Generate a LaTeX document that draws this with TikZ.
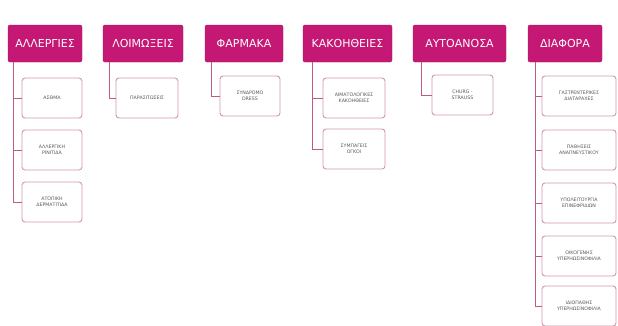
\documentclass[tikz,border=0pt]{standalone}
\usepackage{fontspec}
\setmainfont{DejaVu Sans}
\definecolor{magenta}{RGB}{196,24,116}
\definecolor{rose}{RGB}{210,150,176}
\definecolor{linkpink}{RGB}{190,90,135}
\tikzset{
  header/.style={fill=magenta,draw=magenta!85!black,rounded corners=2pt,
    text=white,font=\fontsize{11}{13}\selectfont,minimum height=37pt,inner sep=0.5pt},
  leaf/.style={fill=white,draw=rose,line width=0.9pt,rounded corners=3pt,
    text=black!65,font=\fontsize{4.7}{6}\selectfont,align=center,
    minimum height=40pt,inner sep=1pt},
  link/.style={draw=linkpink,line width=0.8pt}
}
\begin{document}
\begin{tikzpicture}[x=1pt,y=-1pt]
\useasboundingbox[fill=white] (0,0) rectangle (618,325);

% Αλλεργίες
\node[header,minimum width=74pt] (allergies) at (45,43.5) {ΑΛΛΕΡΓΙΕΣ};
\node[leaf,minimum width=60pt] (asthma) at (52,98) {ΑΣΘΜΑ};
\node[leaf,minimum width=60pt] (rinitida) at (52,150) {ΑΛΛΕΡΓΙΚΗ\\ΡΙΝΙΤΙΔΑ};
\node[leaf,minimum width=60pt] (dermatitida) at (52,202) {ΑΤΟΠΙΚΗ\\ΔΕΡΜΑΤΙΤΙΔΑ};
\draw[link] ([xshift=6pt]allergies.south west) |- (asthma.west);
\draw[link] ([xshift=6pt]allergies.south west) |- (rinitida.west);
\draw[link] ([xshift=6pt]allergies.south west) |- (dermatitida.west);

% Λοιμώξεις
\node[header,minimum width=80pt] (loimoxeis) at (143,43.5) {ΛΟΙΜΩΞΕΙΣ};
\node[leaf,minimum width=62pt] (parasitoseis) at (147,98) {ΠΑΡΑΣΙΤΩΣΕΙΣ};
\draw[link] ([xshift=7pt]loimoxeis.south west) |- (parasitoseis.west);

% Φάρμακα
\node[header,minimum width=78pt] (farmaka) at (244,43.5) {ΦΑΡΜΑΚΑ};
\node[leaf,minimum width=60pt] (dress) at (250,96) {ΣΥΝΔΡΟΜΟ\\DRESS};
\draw[link] ([xshift=7pt]farmaka.south west) |- (dress.west);

% Κακοήθειες
\node[header,minimum width=89pt] (kakoitheies) at (347.5,43.5) {ΚΑΚΟΗΘΕΙΕΣ};
\node[leaf,minimum width=62pt] (aimatologikes) at (354,98) {ΑΙΜΑΤΟΛΟΓΙΚΕΣ\\ΚΑΚΟΗΘΕΙΕΣ};
\node[leaf,minimum width=62pt] (ogkoi) at (354,149) {ΣΥΜΠΑΓΕΙΣ\\ΟΓΚΟΙ};
\draw[link] ([xshift=10pt]kakoitheies.south west) |- (aimatologikes.west);
\draw[link] ([xshift=10pt]kakoitheies.south west) |- (ogkoi.west);

% Αυτοάνοσα
\node[header,minimum width=93pt] (autoanosa) at (459.5,43.5) {ΑΥΤΟΑΝΟΣΑ};
\node[leaf,minimum width=61pt] (churg) at (462.5,95) {CHURG -\\STRAUSS};
\draw[link] ([xshift=9pt]autoanosa.south west) |- (churg.west);

% Διάφορα
\node[header,minimum width=74pt] (diafora) at (565,43.5) {ΔΙΑΦΟΡΑ};
\node[leaf,minimum width=74pt] (gastrenterikes) at (579,96) {ΓΑΣΤΡΕΝΤΕΡΙΚΕΣ\\ΔΙΑΤΑΡΑΧΕΣ};
\node[leaf,minimum width=74pt] (anapnefstikou) at (579,150) {ΠΑΘΗΣΕΙΣ\\ΑΝΑΠΝΕΥΣΤΙΚΟΥ};
\node[leaf,minimum width=74pt] (epinefridion) at (579,203) {ΥΠΟΛΕΙΤΟΥΡΓΙΑ\\ΕΠΙΝΕΦΡΙΔΙΩΝ};
\node[leaf,minimum width=74pt] (oikogenis) at (579,256) {ΟΙΚΟΓΕΝΗΣ\\ΥΠΕΡΗΩΣΙΝΟΦΙΛΙΑ};
\node[leaf,minimum width=74pt] (idiopathis) at (579,306) {ΙΔΙΟΠΑΘΗΣ\\ΥΠΕΡΗΩΣΙΝΟΦΙΛΙΑ};
\draw[link] ([xshift=8pt]diafora.south west) |- (gastrenterikes.west);
\draw[link] ([xshift=8pt]diafora.south west) |- (anapnefstikou.west);
\draw[link] ([xshift=8pt]diafora.south west) |- (epinefridion.west);
\draw[link] ([xshift=8pt]diafora.south west) |- (oikogenis.west);
\draw[link] ([xshift=8pt]diafora.south west) |- (idiopathis.west);
\end{tikzpicture}
\end{document}
